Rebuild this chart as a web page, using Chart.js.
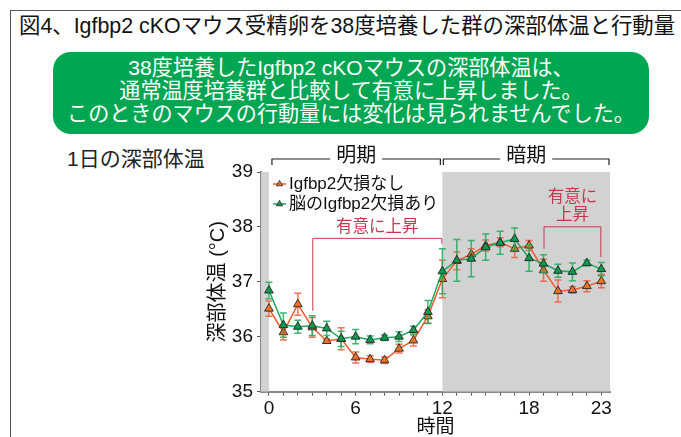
<!DOCTYPE html>
<html lang="ja">
<head>
<meta charset="utf-8">
<script src="https://cdn.jsdelivr.net/npm/chart.js@4.4.1/dist/chart.umd.min.js"></script>
<style>
  html, body { margin: 0; padding: 0; background: #fff; }
  #page { position: relative; width: 681px; height: 437px; overflow: hidden; font-family: "Liberation Sans", "Noto Sans CJK JP", sans-serif; }
  #frame { position: absolute; left: 10px; top: 10px; width: 700px; height: 460px; border: 1px solid #555; box-sizing: border-box; }
  #fig-title { position: absolute; left: 19px; top: 13px; font-size: 21.4px; line-height: 26px; color: #111; white-space: nowrap; }
  #summary { position: absolute; left: 53px; top: 52px; width: 596px; height: 82px; border-radius: 18px; background: #00a651; color: #fff; text-align: center; font-size: 21.1px; line-height: 23px; padding-top: 4px; box-sizing: border-box; white-space: nowrap; }
  #panel-label { position: absolute; left: 67px; top: 146px; font-size: 21px; line-height: 26px; color: #222; white-space: nowrap; }
  #chart-wrap { position: absolute; left: 0; top: 0; width: 681px; height: 437px; }
</style>
</head>
<body>
<div id="page">
  <div id="frame"></div>
  <div id="fig-title">図4、Igfbp2 cKOマウス受精卵を38度培養した群の深部体温と行動量</div>
  <div id="summary">38度培養したIgfbp2 cKOマウスの深部体温は、<br>通常温度培養群と比較して有意に上昇しました。<br>このときのマウスの行動量には変化は見られませんでした。</div>
  <div id="panel-label">1日の深部体温</div>
  <div id="chart-wrap"><canvas id="c" width="681" height="437"></canvas></div>
</div>
<script>
// Hour of day (0 = lights on, 12 = lights off)
const hours = [0,1,2,3,4,5,6,7,8,9,10,11,12,13,14,15,16,17,18,19,20,21,22,23];
const labeledHours = [0, 6, 12, 18, 23];

// Core body temperature (°C), mean and SEM
const controlLabel = 'Igfbp2欠損なし';
const controlTemp = [36.51, 36.08, 36.59, 36.17, 35.92, 35.96, 35.62, 35.59, 35.57, 35.78, 35.93, 36.37,
                     37.05, 37.38, 37.50, 37.66, 37.72, 37.60, 37.66, 37.21, 36.83, 36.85, 36.92, 37.01];
const controlSem  = [0.14, 0.14, 0.20, 0.18, 0.03, 0.20, 0.10, 0.06, 0.06, 0.08, 0.10, 0.12,
                     0.34, 0.16, 0.10, 0.10, 0.08, 0.16, 0.09, 0.20, 0.20, 0.06, 0.10, 0.12];

const koLabel = '脳のIgfbp2欠損あり';
const koTemp = [36.84, 36.21, 36.18, 36.20, 36.15, 35.96, 36.00, 35.94, 35.98, 36.00, 36.12, 36.45,
                37.19, 37.39, 37.42, 37.63, 37.71, 37.78, 37.43, 37.33, 37.20, 37.18, 37.34, 37.23];
const koSem  = [0.15, 0.22, 0.12, 0.18, 0.13, 0.14, 0.13, 0.07, 0.05, 0.09, 0.07, 0.21,
                0.41, 0.38, 0.33, 0.24, 0.21, 0.20, 0.24, 0.16, 0.12, 0.16, 0.05, 0.12];

// Periods and significance brackets (in hours)
const lightPeriod = { label: '明期', from: 0, to: 12 };
const darkPeriod  = { label: '暗期', from: 12, to: 23.6 };
const sigRanges = [
  { from: 3, to: 12, lines: ['有意に上昇'] },
  { from: 19, to: 23, lines: ['有意に', '上昇'] }
];

const JP = '"Liberation Sans", "Noto Sans CJK JP", sans-serif';
const NUM = '"Liberation Sans", Arial, sans-serif';

const CONTROL_LINE = '#f15a2b', CONTROL_FILL = '#ec7421', CONTROL_BAR = 'rgba(240,90,60,0.85)';
const KO_LINE = '#1daa5c', KO_FILL = '#0c9a50', KO_BAR = 'rgba(30,170,90,0.85)';
const SIG_COLOR = '#c8374f';
const SHADE = '#d2d2d2';

const toPoints = (ys, errs) => hours.map((h, i) => ({ x: h, y: ys[i], err: errs[i] }));

// Grey shading for the dark period (and the sliver before hour 0)
const periodShading = {
  id: 'periodShading',
  beforeDatasetsDraw(chart) {
    const { ctx, chartArea: a, scales: { x } } = chart;
    ctx.save();
    ctx.fillStyle = SHADE;
    const x12 = x.getPixelForValue(darkPeriod.from);
    ctx.fillRect(x12, a.top, a.right - x12, a.bottom - a.top);
    const x0 = x.getPixelForValue(0);
    ctx.fillRect(a.left, a.top, x0 - a.left, a.bottom - a.top);
    ctx.restore();
  }
};

// SEM whiskers with caps, drawn beneath each series
const errorBars = {
  id: 'errorBars',
  beforeDatasetDraw(chart, args) {
    const { ctx, scales: { x, y } } = chart;
    const ds = chart.data.datasets[args.index];
    ctx.save();
    ctx.strokeStyle = ds.errorColor;
    ctx.lineWidth = 1.5;
    ds.data.forEach(p => {
      const px = x.getPixelForValue(p.x);
      const hi = y.getPixelForValue(p.y + p.err);
      const lo = y.getPixelForValue(p.y - p.err);
      ctx.beginPath();
      ctx.moveTo(px, hi); ctx.lineTo(px, lo);
      ctx.moveTo(px - 3.5, hi); ctx.lineTo(px + 3.5, hi);
      ctx.moveTo(px - 3.5, lo); ctx.lineTo(px + 3.5, lo);
      ctx.stroke();
    });
    ctx.restore();
  }
};

function triangle(ctx, cx, cy, r, fill) {
  ctx.beginPath();
  ctx.moveTo(cx, cy - r);
  ctx.lineTo(cx + r * 0.866, cy + r * 0.5);
  ctx.lineTo(cx - r * 0.866, cy + r * 0.5);
  ctx.closePath();
  ctx.fillStyle = fill;
  ctx.fill();
  ctx.strokeStyle = '#222';
  ctx.lineWidth = 0.8;
  ctx.stroke();
}

// Period brackets above the plot, significance brackets and the legend
const overlays = {
  id: 'overlays',
  afterDraw(chart) {
    const { ctx, chartArea: a, scales: { x, y } } = chart;
    ctx.save();

    // 明期 / 暗期 brackets
    const bracketY = a.top - 13;
    const drawPeriod = (p, x1, x2) => {
      ctx.font = '20px ' + JP;
      ctx.textAlign = 'center';
      ctx.textBaseline = 'middle';
      ctx.fillStyle = '#111';
      const cx = (x1 + x2) / 2;
      const w = ctx.measureText(p.label).width;
      ctx.fillText(p.label, cx, bracketY - 3);
      ctx.strokeStyle = '#222';
      ctx.lineWidth = 1.2;
      ctx.beginPath();
      ctx.moveTo(x1, bracketY + 6); ctx.lineTo(x1, bracketY); ctx.lineTo(cx - w / 2 - 6, bracketY);
      ctx.moveTo(cx + w / 2 + 6, bracketY); ctx.lineTo(x2, bracketY); ctx.lineTo(x2, bracketY + 6);
      ctx.stroke();
    };
    drawPeriod(lightPeriod, x.getPixelForValue(lightPeriod.from) + 3, x.getPixelForValue(lightPeriod.to) - 2);
    drawPeriod(darkPeriod, x.getPixelForValue(darkPeriod.from) + 1, Math.min(a.right, x.getPixelForValue(darkPeriod.to)) - 1);

    // significance brackets
    ctx.strokeStyle = SIG_COLOR;
    ctx.fillStyle = SIG_COLOR;
    ctx.lineWidth = 1;
    ctx.font = '16.5px ' + JP;
    ctx.textAlign = 'center';
    ctx.textBaseline = 'middle';
    // 3–12 h during the light period
    {
      const r = sigRanges[0];
      const x1 = x.getPixelForValue(r.from), x2 = x.getPixelForValue(r.to);
      const top = y.getPixelForValue(37.8);
      ctx.beginPath();
      ctx.moveTo(x1 + 0.5, y.getPixelForValue(36.47)); ctx.lineTo(x1 + 0.5, top + 0.5);
      ctx.lineTo(x2 - 0.5, top + 0.5); ctx.lineTo(x2 - 0.5, top + 6);
      ctx.stroke();
      ctx.fillText(r.lines[0], (x1 + x2) / 2, top - 10);
    }
    // 19–23 h during the dark period
    {
      const r = sigRanges[1];
      const x1 = x.getPixelForValue(r.from), x2 = x.getPixelForValue(r.to);
      const top = y.getPixelForValue(38.01);
      ctx.beginPath();
      ctx.moveTo(x1 + 0.5, y.getPixelForValue(37.6)); ctx.lineTo(x1 + 0.5, top + 0.5);
      ctx.lineTo(x2 - 0.5, top + 0.5); ctx.lineTo(x2 - 0.5, y.getPixelForValue(37.45));
      ctx.stroke();
      const cx = (x1 + x2) / 2;
      ctx.fillText(r.lines[0], cx, top - 29);
      ctx.fillText(r.lines[1], cx, top - 11);
    }

    // legend
    const items = [
      { text: controlLabel, line: CONTROL_LINE, fill: CONTROL_FILL },
      { text: koLabel, line: KO_LINE, fill: KO_FILL }
    ];
    ctx.font = '17px ' + JP;
    ctx.textAlign = 'left';
    ctx.textBaseline = 'middle';
    items.forEach((it, i) => {
      const ly = a.top + 12 + i * 20;
      const lx = a.left + 12;
      ctx.strokeStyle = it.line;
      ctx.lineWidth = 1.5;
      ctx.beginPath(); ctx.moveTo(lx, ly); ctx.lineTo(lx + 13, ly); ctx.stroke();
      triangle(ctx, lx + 6.5, ly, 3.6, it.fill);
      ctx.fillStyle = '#111';
      ctx.fillText(it.text, lx + 16, ly);
    });
    ctx.restore();
  }
};

new Chart(document.getElementById('c'), {
  type: 'line',
  data: {
    datasets: [
      {
        label: koLabel,
        data: toPoints(koTemp, koSem),
        errorColor: KO_BAR,
        borderColor: KO_LINE,
        borderWidth: 1.5,
        pointStyle: 'triangle',
        pointRadius: 5,
        pointBackgroundColor: KO_FILL,
        pointBorderColor: '#222',
        pointBorderWidth: 0.9,
        tension: 0,
        order: 0
      },
      {
        label: controlLabel,
        data: toPoints(controlTemp, controlSem),
        errorColor: CONTROL_BAR,
        borderColor: CONTROL_LINE,
        borderWidth: 1.5,
        pointStyle: 'triangle',
        pointRadius: 5,
        pointBackgroundColor: CONTROL_FILL,
        pointBorderColor: '#222',
        pointBorderWidth: 0.9,
        tension: 0,
        order: 1
      }
    ]
  },
  options: {
    responsive: false,
    animation: false,
    parsing: false,
    layout: { padding: { left: 200, top: 172, right: 71, bottom: 0 } },
    plugins: {
      legend: { display: false },
      tooltip: { enabled: false }
    },
    scales: {
      x: {
        type: 'linear',
        min: -0.55,
        max: 23.6,
        afterBuildTicks: s => { s.ticks = hours.map(v => ({ value: v })); },
        afterFit: s => { s.height = 45.5; },
        ticks: {
          autoSkip: false,
          maxRotation: 0,
          padding: 2,
          color: '#111',
          font: { family: NUM, size: 19 },
          callback: v => labeledHours.includes(v) ? String(v) : ''
        },
        grid: { drawOnChartArea: false, tickLength: 4, color: '#555', lineWidth: 1 },
        border: { color: '#888', width: 2 },
        title: {
          display: true,
          text: '時間',
          color: '#111',
          font: { family: JP, size: 19, lineHeight: 1 },
          padding: { top: 0, bottom: 0 }
        }
      },
      y: {
        min: 35,
        max: 39,
        afterFit: s => { s.width = 61; },
        ticks: {
          stepSize: 1,
          padding: 4,
          color: '#111',
          font: { family: NUM, size: 19 }
        },
        grid: { drawOnChartArea: false, tickLength: 4, color: '#555', lineWidth: 1 },
        border: { color: '#888', width: 2 },
        title: {
          display: true,
          text: '深部体温 (°C)',
          color: '#111',
          font: { family: JP, size: 20 },
          padding: { top: 6, bottom: 0 }
        }
      }
    }
  },
  plugins: [periodShading, errorBars, overlays]
});
</script>
</body>
</html>
